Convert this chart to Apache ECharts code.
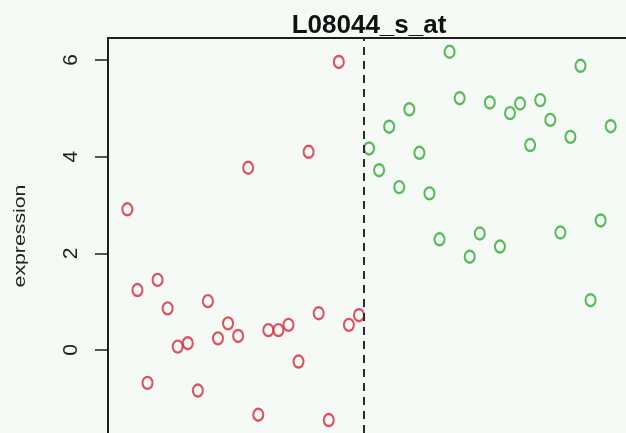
<!DOCTYPE html>
<html>
<head>
<meta charset="utf-8">
<script src="https://cdn.jsdelivr.net/npm/echarts@6/dist/echarts.min.js"></script>
<style>
  html, body { margin: 0; padding: 0; background: #f5faf7; }
  #chart { width: 626px; height: 433px; }
</style>
</head>
<body>
<div id="chart"></div>
<script>
// Expression values of probe L08044_s_at, one value per sample, in sample order
const groupA = [2.91, 1.24, -0.68, 1.45, 0.86, 0.07, 0.14, -0.84, 1.01, 0.24, 0.55, 0.29,
                3.77, -1.34, 0.41, 0.41, 0.52, -0.24, 4.10, 0.76, -1.45, 5.96, 0.52, 0.72];
const groupB = [4.17, 3.72, 4.62, 3.37, 4.98, 4.08, 3.24, 2.29, 6.17, 5.21, 1.93, 2.41,
                5.12, 2.14, 4.90, 5.10, 4.24, 5.17, 4.76, 2.43, 4.41, 5.88, 1.03, 2.68, 4.63];
const yTicks = [0, 2, 4, 6];
const title = 'L08044_s_at';
const yName = 'expression';

// sample index runs 1..n across both groups
const pointsA = groupA.map((v, i) => [i + 1, v]);
const pointsB = groupB.map((v, i) => [groupA.length + i + 1, v]);
const split = groupA.length + 0.5;
const n = groupA.length + groupB.length;
const pad = (n - 1) * 0.04;

const chart = echarts.init(document.getElementById('chart'), null, { renderer: 'canvas' });
const font = '"Liberation Sans", Arial, Helvetica, sans-serif';
const ink = '#1e1e1e';

chart.setOption({
  backgroundColor: '#f5faf7',
  animation: false,
  // plot region runs past the right and bottom edges of the page
  grid: { left: 108, top: 38, right: 0, bottom: 0, show: false },
  xAxis: {
    type: 'value', position: 'top', min: 1 - pad, max: 50.52,
    axisLine: { show: true, onZero: false, lineStyle: { color: ink, width: 2 } },
    axisTick: { show: false }, axisLabel: { show: false }, splitLine: { show: false }
  },
  yAxis: {
    type: 'value', min: -1.718, max: 6.455,
    axisLine: { show: true, onZero: false, lineStyle: { color: ink, width: 2 } },
    splitLine: { show: false },
    axisTick: { show: true, inside: false, length: 13, customValues: yTicks,
                lineStyle: { color: ink, width: 1.5 } },
    axisLabel: { show: true, customValues: yTicks, rotate: 90, margin: 26,
                 color: ink, fontSize: 21, fontFamily: font }
  },
  graphic: [
    { type: 'text', x: 369, y: 26,
      style: { text: title, font: 'bold 26px ' + font, fill: '#111',
               textAlign: 'center', textVerticalAlign: 'middle' } },
    { type: 'text', x: 21, y: 236, rotation: Math.PI / 2, scaleX: 1.33,
      style: { text: yName, font: '16px ' + font, fill: '#222',
               textAlign: 'center', textVerticalAlign: 'middle' } }
  ],
  series: [
    {
      type: 'scatter', data: pointsA, symbol: 'circle', symbolSize: [10, 12],
      itemStyle: { color: 'rgba(0,0,0,0)', borderColor: '#d8283a', borderWidth: 2.2 },
      markLine: {
        silent: true, symbol: 'none', label: { show: false },
        lineStyle: { color: '#2a2a2a', type: [8, 6], width: 2 },
        data: [{ xAxis: split }]
      }
    },
    {
      type: 'scatter', data: pointsB, symbol: 'circle', symbolSize: [10, 12],
      itemStyle: { color: 'rgba(0,0,0,0)', borderColor: '#30ac30', borderWidth: 2.2 }
    }
  ]
});
</script>
</body>
</html>
